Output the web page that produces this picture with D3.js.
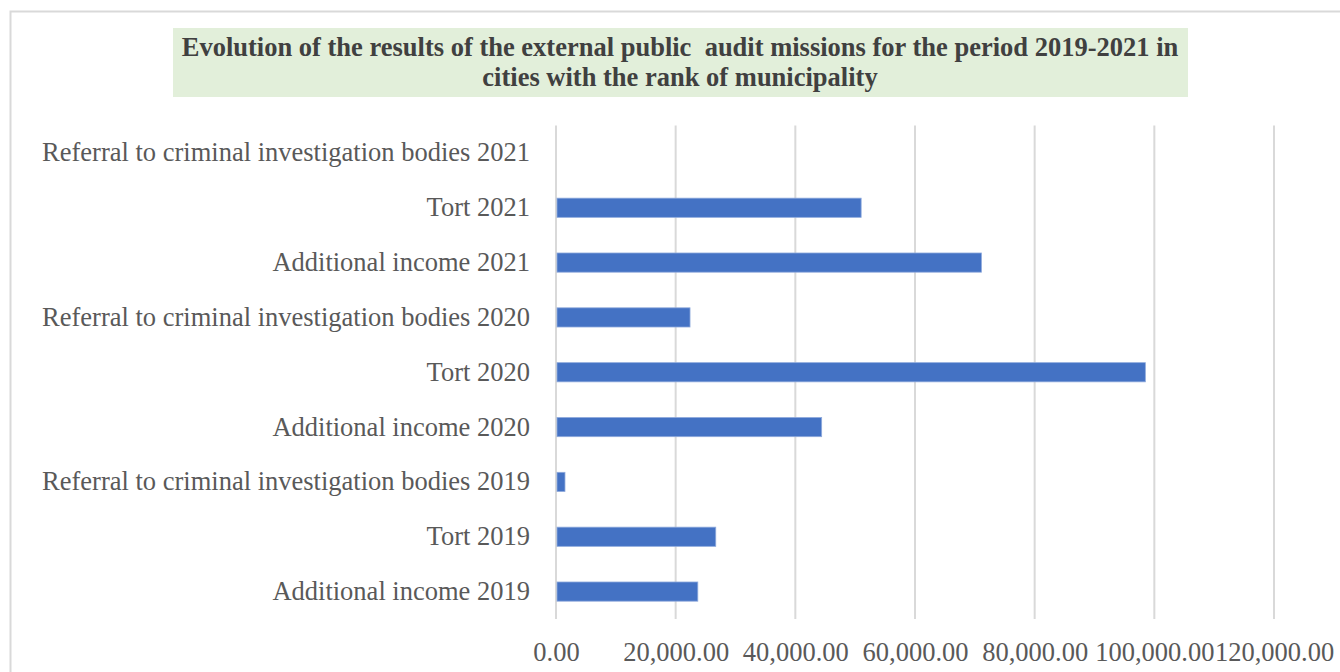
<!DOCTYPE html>
<html>
<head>
<meta charset="utf-8">
<script src="https://cdn.jsdelivr.net/npm/d3@7"></script>
<style>
  body { margin: 0; background: #fff; }
  svg { display: block; }
</style>
</head>
<body>
<div id="chart"></div>
<script>
// categories, bottom to top as in the sheet
const categories = [
  "Additional income 2019",
  "Tort 2019",
  "Referral to criminal investigation bodies 2019",
  "Additional income 2020",
  "Tort 2020",
  "Referral to criminal investigation bodies 2020",
  "Additional income 2021",
  "Tort 2021",
  "Referral to criminal investigation bodies 2021"
];
const values = [23700, 26700, 1500, 44400, 98500, 22400, 71100, 51000, 0];
const xTicks = [0, 20000, 40000, 60000, 80000, 100000, 120000];
const titleLines = [
  "Evolution of the results of the external public  audit missions for the period 2019-2021 in",
  "cities with the rank of municipality"
];

const width = 1340, height = 672;
const margin = {top: 125.5, right: 66, bottom: 53, left: 556};

const svg = d3.select("#chart").append("svg")
    .attr("width", width)
    .attr("height", height);

// chart border
svg.append("rect")
    .attr("x", 10.5).attr("y", 11.5)
    .attr("width", 1400).attr("height", 700)
    .attr("fill", "#fff")
    .attr("stroke", "#d9d9d9")
    .attr("stroke-width", 2);

const xScale = d3.scaleLinear()
    .domain([0, 120000])
    .range([margin.left, width - margin.right]);

const yScale = d3.scaleBand()
    .domain(categories.slice().reverse())
    .range([margin.top, height - margin.bottom])
    .paddingInner(0.65)
    .paddingOuter(0.325);

// gridlines
svg.append("g")
    .selectAll("line")
    .data(xTicks)
    .join("line")
      .attr("x1", d => xScale(d)).attr("x2", d => xScale(d))
      .attr("y1", margin.top).attr("y2", height - margin.bottom)
      .attr("stroke", "#d9d9d9")
      .attr("stroke-width", 2);

// bars
svg.append("g")
    .selectAll("rect")
    .data(categories)
    .join("rect")
      .attr("x", xScale(0) + 1)
      .attr("y", d => yScale(d))
      .attr("width", (d, i) => Math.max(0, xScale(values[i]) - xScale(0) - 1))
      .attr("height", yScale.bandwidth())
      .attr("fill", "#4472c4")
      .attr("stroke", "#8faadc")
      .attr("stroke-width", (d, i) => values[i] > 0 ? 0.8 : 0);

// category labels
const yAxis = svg.append("g")
    .attr("transform", `translate(${margin.left},0)`)
    .call(d3.axisLeft(yScale).tickSize(0).tickPadding(26));
yAxis.select(".domain").remove();
yAxis.selectAll("text")
    .attr("font-family", "'Liberation Serif', 'Times New Roman', serif")
    .attr("font-size", 26.5)
    .attr("fill", "#595959");

// value axis
const xAxis = svg.append("g")
    .attr("transform", `translate(0,${height - margin.bottom})`)
    .call(d3.axisBottom(xScale).tickValues(xTicks).tickSize(0).tickPadding(23)
      .tickFormat(d3.format(",.2f")));
xAxis.select(".domain").remove();
xAxis.selectAll("text")
    .attr("font-family", "'Liberation Serif', 'Times New Roman', serif")
    .attr("font-size", 26.5)
    .attr("fill", "#595959");

// title box
svg.append("rect")
    .attr("x", 173).attr("y", 28)
    .attr("width", 1015).attr("height", 69)
    .attr("fill", "#e2efda");

svg.append("g")
    .selectAll("text")
    .data(titleLines)
    .join("text")
      .attr("x", 680)
      .attr("y", (d, i) => 56 + i * 30)
      .attr("text-anchor", "middle")
      .attr("font-family", "'Liberation Serif', 'Times New Roman', serif")
      .attr("font-weight", "bold")
      .attr("font-size", 26.5)
      .attr("fill", "#404040")
      .style("white-space", "pre")
      .text(d => d);
</script>
</body>
</html>
